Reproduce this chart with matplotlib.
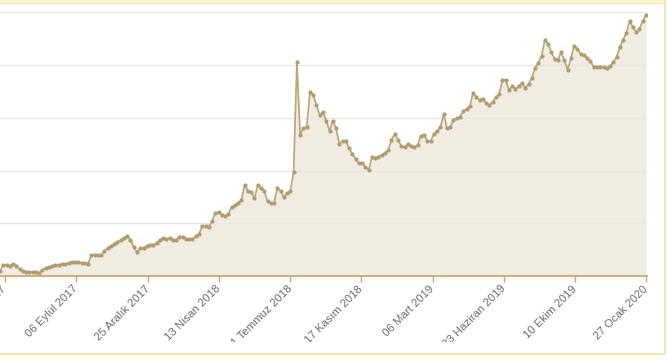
import matplotlib
matplotlib.use("Agg")
import matplotlib.pyplot as plt
from matplotlib.patches import Rectangle
from matplotlib.lines import Line2D
from matplotlib.transforms import Bbox, TransformedBbox
import pandas as pd

# seri: 12 Mayis 2017'den itibaren 5 gunde bir okunan degerler
start = "2017-05-12"
values = [
    104.7, 110.4, 110.4, 109.5, 111.4, 109.5, 106.6, 104.7, 103.8, 103.8,
    103.8, 103.8, 102.8, 105.7, 107.6, 108.5, 109.5, 110.4, 110.4, 111.4,
    111.4, 112.3, 113.3, 113.3, 113.3, 112.3, 112.3, 111.4, 119.9, 119.9,
    119.9, 119.9, 123.7, 126.5, 128.4, 130.3, 132.2, 134.1, 136.0, 137.9,
    134.1, 127.5, 122.8, 126.5, 126.5, 128.4, 129.4, 129.4, 131.3, 134.1,
    136.0, 135.1, 136.0, 134.1, 134.1, 137.0, 137.0, 135.1, 135.1, 135.1,
    137.9, 139.8, 147.4, 147.4, 146.5, 152.1, 159.7, 160.7, 157.8, 156.9,
    158.8, 165.4, 167.3, 169.2, 172.0, 186.3, 180.6, 179.6, 173.9, 186.3,
    183.4, 180.6, 171.1, 169.2, 169.2, 183.4, 180.6, 174.9, 178.7, 180.6,
    198.6, 302.9, 233.7, 240.3, 241.2, 274.4, 271.6, 262.1, 252.6, 255.5,
    246.9, 237.5, 246.9, 240.3, 225.1, 228.0, 228.0, 221.3, 215.7, 210.9,
    207.1, 207.1, 203.3, 200.5, 212.8, 211.9, 212.8, 214.7, 216.6, 219.4,
    228.9, 234.6, 228.9, 223.2, 222.3, 225.1, 223.2, 222.3, 224.2, 232.7,
    233.7, 228.0, 228.0, 234.6, 237.5, 241.2, 253.6, 240.3, 241.2, 247.9,
    249.8, 250.7, 256.4, 258.3, 261.2, 273.5, 269.7, 266.8, 267.8, 264.0,
    262.1, 264.9, 269.7, 272.5, 285.8, 285.8, 276.3, 280.1, 277.3, 280.1,
    283.0, 278.2, 282.0, 287.7, 297.2, 301.9, 308.6, 323.7, 319.9, 312.3,
    305.7, 304.8, 312.3, 304.8, 295.3, 306.7, 318.0, 315.2, 310.5, 309.5,
    306.7, 303.8, 298.1, 298.1, 298.1, 298.1, 297.2, 299.1, 302.9, 307.6,
    317.1, 323.7, 330.4, 341.7, 336.0, 331.3, 334.2, 341.7, 347.4,
]
dates = pd.date_range(start, periods=len(values), freq="5D")

tick_dates = pd.to_datetime([
    "2017-05-19", "2017-09-06", "2017-12-25", "2018-04-13", "2018-07-31",
    "2018-11-17", "2019-03-06", "2019-06-23", "2019-10-10", "2020-01-27",
])
tick_labels = [
    "19 Mayıs 2017", "06 Eylül 2017", "25 Aralık 2017", "13 Nisan 2018",
    "31 Temmuz 2018", "17 Kasım 2018", "06 Mart 2019", "23 Haziran 2019",
    "10 Ekim 2019", "27 Ocak 2020",
]
grid_values = [150, 200, 250, 300, 350]

W, H = 667, 360
fig = plt.figure(figsize=(W / 100, H / 100), dpi=100)

# ust sari bant ve cerceve
fig.patches.append(Rectangle((0, (H - 3) / H), 664.5 / W, 3 / H,
                             transform=fig.transFigure, color="#fcf5d2", zorder=0))
fig.add_artist(Line2D([0, 664.5 / W], [(H - 3) / H] * 2, color="#f3e8b8", lw=0.8))
fig.add_artist(Line2D([664.5 / W] * 2, [(H - 353.5) / H, 1], color="#efe2a9", lw=1.2))
fig.add_artist(Line2D([0, 664.5 / W], [(H - 353.5) / H] * 2, color="#efe2a9", lw=1.2))

ax = fig.add_axes([0, (H - 276) / H, 647 / W, (276 - 5) / H])
ax.patch.set_alpha(0)

ax.fill_between(dates, values, 100, color="#f1ece1", lw=0, zorder=1)
ax.plot(dates, values, color="#b8a479", lw=1.2, marker="o", ms=2.0,
        mfc="#b09c6c", mec="#b09c6c", zorder=3)

x0 = pd.Timestamp(start)
ax.set_xlim(x0, x0 + pd.Timedelta(days=991.6))
ax.set_ylim(100, 356.9)
ax.set_yticks(grid_values)
ax.yaxis.grid(True, color="#e6e6e6", lw=1)
ax.tick_params(axis="y", length=0, labelleft=False)
for s in ["top", "right", "left"]:
    ax.spines[s].set_visible(False)
ax.spines["bottom"].set_color("#c9a66b")
ax.spines["bottom"].set_linewidth(1.2)

ax.set_xticks(tick_dates)
ax.set_xticklabels(tick_labels, rotation=45, ha="right", va="center",
                   rotation_mode="anchor", fontsize=8.2, color="#6a6a6a",
                   family="Liberation Sans")
ax.tick_params(axis="x", length=4, width=1, color="#c9a66b", pad=4)

# etiketler alt kenarda kesiliyor
clip = TransformedBbox(Bbox([[-0.2, 18.5 / H], [1.2, 1]]), fig.transFigure)
for t in ax.get_xticklabels():
    t.set_clip_box(clip)
    t.set_clip_on(True)

fig.savefig("out.png", dpi=100)
